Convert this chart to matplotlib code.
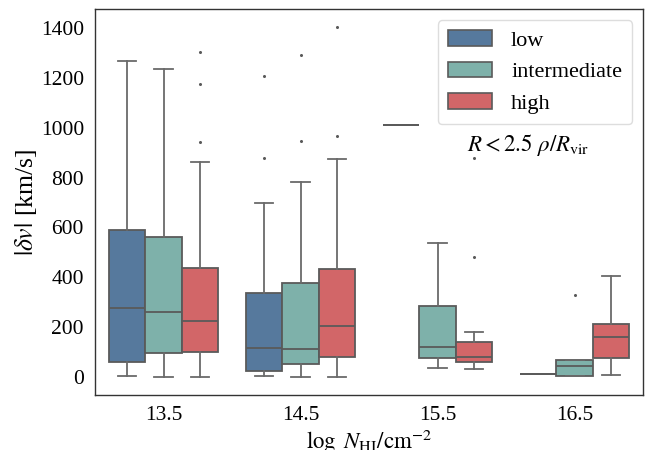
import numpy as np
import matplotlib
matplotlib.use('Agg')
from matplotlib import pyplot as plt
from matplotlib.patches import Patch

plt.rcParams['font.family'] = ['Liberation Serif', 'DejaVu Serif']
plt.rcParams['mathtext.fontset'] = 'stix'

# categories and hue levels
categories = ['13.5', '14.5', '15.5', '16.5']
levels = ['low', 'intermediate', 'high']
colors = ['#56799d', '#7eb1aa', '#d26668']

# box statistics per hue level, one entry per category
low_q1 = [62, 24, 1010, 13]
low_med = [277, 118, 1010, 13]
low_q3 = [589, 337, 1010, 13]
low_lo = [6, 6, 1010, 13]
low_hi = [1269, 700, 1010, 13]
low_fliers = [[], [1206, 880], [], []]

mid_q1 = [97, 54, 76, 6]
mid_med = [262, 113, 120, 44]
mid_q3 = [562, 378, 284, 69]
mid_lo = [2, 2, 37, 6]
mid_hi = [1234, 781, 538, 69]
mid_fliers = [[], [1290, 946], [], [329]]

high_q1 = [100, 82, 60, 77]
high_med = [224, 206, 82, 162]
high_q3 = [437, 432, 140, 212]
high_lo = [2, 2, 33, 10]
high_hi = [864, 874, 182, 406]
high_fliers = [[1302, 1174, 942], [1404, 966], [877, 480], []]

stats_by_level = [
    (low_q1, low_med, low_q3, low_lo, low_hi, low_fliers),
    (mid_q1, mid_med, mid_q3, mid_lo, mid_hi, mid_fliers),
    (high_q1, high_med, high_q3, high_lo, high_hi, high_fliers),
]

fig = plt.figure(figsize=(6.51, 4.5), dpi=100)
ax = fig.add_axes([0.146, 0.122, 0.842, 0.858])

line_col = '#5a5a5a'
width = 0.8 / len(levels)
x = np.arange(len(categories))

for k, (q1, med, q3, lo, hi, fl) in enumerate(stats_by_level):
    stats = []
    for i in range(len(categories)):
        stats.append(dict(q1=q1[i], med=med[i], q3=q3[i], whislo=lo[i],
                          whishi=hi[i], fliers=fl[i]))
    pos = x - 0.4 + width * (k + 0.5)
    ax.bxp(stats, positions=pos, widths=width, patch_artist=True,
           showfliers=True,
           boxprops=dict(facecolor=colors[k], edgecolor=line_col, linewidth=1.3),
           medianprops=dict(color=line_col, linewidth=1.3),
           whiskerprops=dict(color='#6a6a6a', linewidth=1.3),
           capprops=dict(color='#6a6a6a', linewidth=1.3),
           flierprops=dict(marker='o', markersize=1.2, markerfacecolor=line_col,
                           markeredgecolor=line_col))

ax.set_xlim(-0.5, len(categories) - 0.5)
ax.set_ylim(-72, 1476)
ax.set_xticks(x)
ax.set_xticklabels(categories)
ax.set_yticks(np.arange(0, 1401, 200))
ax.tick_params(labelsize=15.5, length=0, pad=8)
for s in ax.spines.values():
    s.set_color('#333333')
    s.set_linewidth(1.0)

ax.set_xlabel(r'$\log\ N_{\rm HI}/{\rm cm}^{-2}$', fontsize=16.5, labelpad=2)
ax.set_ylabel(r'$|\delta v|$ [km/s]', fontsize=18.5, labelpad=1)

handles = [Patch(facecolor=c, edgecolor=line_col, linewidth=1.2) for c in colors]
leg = ax.legend(handles, levels, loc='upper right', fontsize=16,
                handlelength=2.0, handleheight=0.7, labelspacing=0.5,
                handletextpad=0.85, borderpad=0.45, borderaxespad=0.5,
                framealpha=1.0, edgecolor='#dddddd')

ax.text(0.79, 0.648, r'$R < 2.5\ \rho/R_{\rm vir}$', transform=ax.transAxes,
        fontsize=16.5, ha='center', va='center')

fig.savefig('out.png', dpi=100)
